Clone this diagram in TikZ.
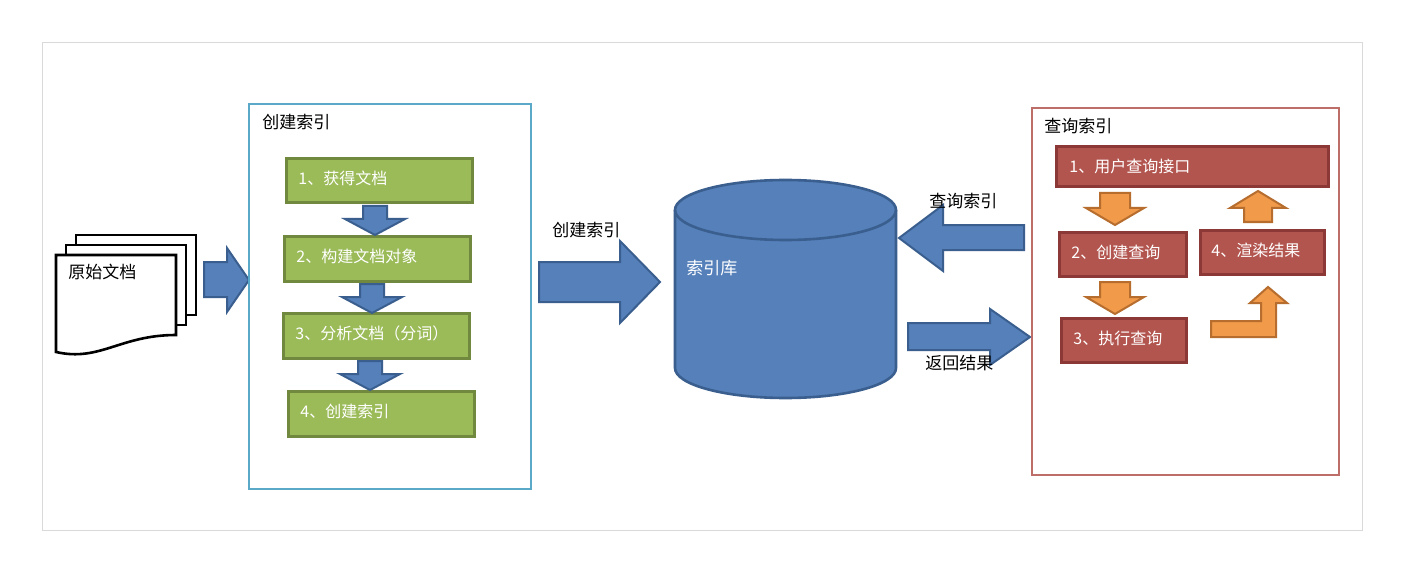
\documentclass[tikz,border=0pt]{standalone}
\usepackage{fontspec}
\setmainfont{Noto Sans CJK SC}
\usetikzlibrary{positioning}
\definecolor{stepgreen}{HTML}{9BBB59}
\definecolor{stepgreenline}{HTML}{71893F}
\definecolor{stepred}{HTML}{B3554F}
\definecolor{stepredline}{HTML}{8C3836}
\definecolor{flowblue}{HTML}{5580BA}
\definecolor{flowblueline}{HTML}{3A5F8F}
\definecolor{flowor}{HTML}{F09A4A}
\definecolor{floworline}{HTML}{B66D2E}
\definecolor{boxcyan}{HTML}{5AA9C8}
\tikzset{
  lbl/.style={font=\fontsize{8.5}{10}\selectfont,anchor=west,inner sep=0pt},
  gstep/.style={draw=stepgreenline,fill=stepgreen,line width=1.5pt},
  rstep/.style={draw=stepredline,fill=stepred,line width=1.5pt},
  stxt/.style={font=\fontsize{8}{10}\selectfont,text=white,anchor=west,inner sep=0pt},
  bluearr/.style={draw=flowblueline,fill=flowblue,line width=1pt},
  orarr/.style={draw=floworline,fill=flowor,line width=1pt},
}
\begin{document}
\begin{tikzpicture}[x=0.5pt,y=-0.5pt]
\useasboundingbox (0,0) rectangle (1406,572);
% canvas
\draw[gray!30,fill=white] (42,42) rectangle (1362,530);
% documents
\foreach \d in {20,10}
  \draw[line width=1.3pt,fill=white] (56+\d,255-\d) rectangle (176+\d,335-\d);
\draw[line width=1.3pt,fill=white] (56,255) -- (176,255) -- (176,335)
  .. controls (120,335) and (100,362) .. (56,352) -- cycle;
\node[lbl] (doc) at (68,272) {原始文档};
\draw[bluearr] (204,262) -- (227,262) -- (227,248) -- (249,280) -- (227,312) -- (227,297) -- (204,297) -- cycle;
% create index box
\draw[draw=boxcyan,line width=1.3pt] (249,104) rectangle (531,489);
\node[lbl] (ctitle) at (262,122) {创建索引};
\draw[gstep] (286,159) rectangle (472,203);
\node[stxt] (g1) at (298,178) {1、获得文档};
\draw[gstep] (284,236) rectangle (470,281);
\node[stxt] (g2) at (296,256) {2、构建文档对象};
\draw[gstep] (283,313) rectangle (469,358);
\node[stxt] (g3) at (295,333) {3、分析文档（分词）};
\draw[gstep] (288,391) rectangle (474,436);
\node[stxt] (g4) at (300,411) {4、创建索引};
\foreach \cx/\ty in {375/206,372/284,370/361}
  \draw[bluearr] (\cx-12,\ty) -- (\cx+12,\ty) -- (\cx+12,\ty+13) -- (\cx+30,\ty+13)
    -- (\cx,\ty+29) -- (\cx-30,\ty+13) -- (\cx-12,\ty+13) -- cycle;
% big arrow
\draw[bluearr] (539,262) -- (620,262) -- (620,241) -- (660,282) -- (620,323) -- (620,302) -- (539,302) -- cycle;
\node[lbl] (cidx) at (552,230) {创建索引};
% cylinder
\draw[draw=flowblueline,fill=flowblue,line width=1.3pt]
  (675,210) -- (675,368) arc[start angle=180,end angle=0,x radius=110.5,y radius=30]
  -- (896,210) arc[start angle=0,end angle=-180,x radius=110.5,y radius=30] -- cycle;
\draw[draw=flowblueline,line width=1.3pt] (675,210) arc[start angle=180,end angle=0,x radius=110.5,y radius=30];
\node[lbl,text=white] (lib) at (686,268) {索引库};
% query / result arrows
\draw[bluearr] (1024,225) -- (943,225) -- (943,205) -- (899,238) -- (943,271) -- (943,250) -- (1024,250) -- cycle;
\node[lbl] (qidx) at (929,201) {查询索引};
\draw[bluearr] (908,323) -- (990,323) -- (990,309) -- (1030,337) -- (990,365) -- (990,350) -- (908,350) -- cycle;
\node[lbl] (ret) at (925,363) {返回结果};
% query box
\draw[draw=stepred!85!white,line width=1.3pt] (1032,108) rectangle (1339,475);
\node[lbl] (qtitle) at (1044,126) {查询索引};
\draw[rstep] (1056,147) rectangle (1328,187);
\node[stxt] (r1) at (1069,166) {1、用户查询接口};
\draw[rstep] (1059,232) rectangle (1186,276);
\node[stxt] (r2) at (1071,252) {2、创建查询};
\draw[rstep] (1061,318) rectangle (1186,362);
\node[stxt] (r3) at (1073,338) {3、执行查询};
\draw[rstep] (1200,230) rectangle (1324,274);
\node[stxt] (r4) at (1211,250) {4、渲染结果};
\foreach \ty in {193,282}
  \draw[orarr] (1100,\ty) -- (1130,\ty) -- (1130,\ty+15) -- (1144,\ty+15)
    -- (1115,\ty+32) -- (1086,\ty+15) -- (1100,\ty+15) -- cycle;
\draw[orarr] (1244,222) -- (1272,222) -- (1272,208) -- (1286,208) -- (1258,191) -- (1230,208) -- (1244,208) -- cycle;
\draw[orarr] (1211,337) -- (1276,337) -- (1276,303) -- (1287,303) -- (1268,287) -- (1250,303) -- (1261,303) -- (1261,321) -- (1211,321) -- cycle;
\end{tikzpicture}
\end{document}
